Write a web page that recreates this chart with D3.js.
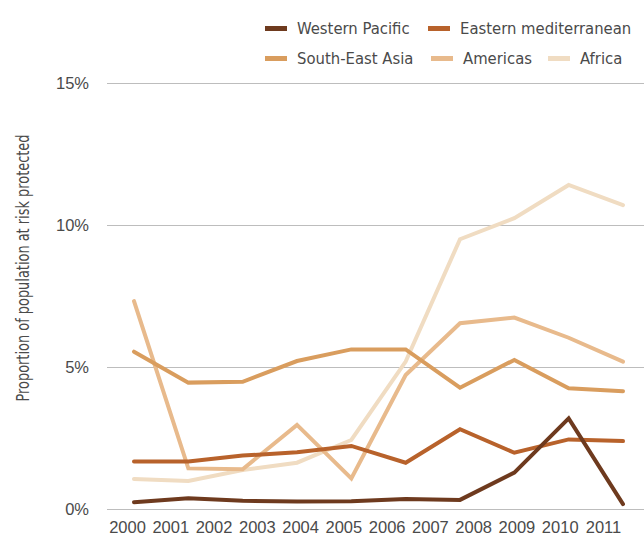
<!DOCTYPE html>
<html>
<head>
<meta charset="utf-8">
<script src="https://cdn.jsdelivr.net/npm/d3@7"></script>
<style>
  html, body { margin: 0; padding: 0; background: #fff; }
  svg { display: block; font-family: "DejaVu Sans Condensed", "DejaVu Sans", sans-serif; font-stretch: condensed; }
</style>
</head>
<body>
<svg id="chart" width="644" height="538"></svg>
<script>
  // ── Data ──────────────────────────────────────────────────────────────
  const yearLabels = [2000, 2001, 2002, 2003, 2004, 2005, 2006, 2007, 2008, 2009, 2010, 2011];
  const seriesNames = ["Western Pacific", "Eastern mediterranean", "South-East Asia", "Americas", "Africa"];
  const seriesColors = ["#6e3a1e", "#b8622b", "#d99d5e", "#e8ba8c", "#f0dcc2"];

  // 10 observations per region (% of population at risk protected)
  const westernPacific = [0.24, 0.38, 0.29, 0.26, 0.27, 0.35, 0.32, 1.28, 3.19, 0.17];
  const easternMed     = [1.67, 1.67, 1.88, 2.00, 2.22, 1.63, 2.81, 1.98, 2.45, 2.39];
  const southEastAsia  = [5.54, 4.45, 4.48, 5.21, 5.62, 5.62, 4.27, 5.25, 4.25, 4.15];
  const americas       = [7.32, 1.43, 1.40, 2.96, 1.08, 4.72, 6.54, 6.74, 6.03, 5.19];
  const africa         = [1.06, 0.99, 1.37, 1.63, 2.43, 5.19, 9.50, 10.24, 11.41, 10.70];

  const yTicks = [0, 5, 10, 15];

  // ── Layout ────────────────────────────────────────────────────────────
  const GRID_LEFT = 107, GRID_RIGHT = 644;
  const Y_TOP = 83, Y_BOTTOM = 509;
  const TEXT_COLOR = "#4a4a4a";
  const TICK_FONT = "16.5px";
  const LEGEND_FONT = "16.5px";

  const svg = d3.select("#chart");

  const y = d3.scaleLinear().domain([0, 15]).range([Y_BOTTOM, Y_TOP]);
  // observation positions along the plot
  const xObs = d3.scaleLinear().domain([0, 9]).range([134, 623]);
  // year labels along the axis
  const xYear = d3.scaleLinear().domain([2000, 2011]).range([127, 603]);

  // ── Y axis + gridlines ────────────────────────────────────────────────
  const yAxisG = svg.append("g")
    .attr("transform", `translate(${GRID_LEFT},0)`)
    .call(d3.axisLeft(y)
      .tickValues(yTicks)
      .tickSize(-(GRID_RIGHT - GRID_LEFT))
      .tickPadding(18)
      .tickFormat(d => d + "%"));
  yAxisG.select(".domain").remove();
  yAxisG.selectAll(".tick line").attr("stroke", "#bdbdbd").attr("stroke-width", 1);
  yAxisG.selectAll(".tick text")
    .attr("fill", TEXT_COLOR)
    .attr("font-size", TICK_FONT)
    .attr("font-family", null);

  // ── X axis labels ─────────────────────────────────────────────────────
  const xAxisG = svg.append("g")
    .attr("transform", `translate(0,${Y_BOTTOM + 8})`)
    .call(d3.axisBottom(xYear)
      .tickValues(yearLabels)
      .tickSize(0)
      .tickPadding(4)
      .tickFormat(d3.format("d")));
  xAxisG.select(".domain").remove();
  xAxisG.selectAll(".tick text")
    .attr("fill", TEXT_COLOR)
    .attr("font-size", TICK_FONT)
    .attr("font-family", null);

  // ── Y label ───────────────────────────────────────────────────────────
  svg.append("text")
    .attr("transform", "translate(29,268) rotate(-90)")
    .attr("text-anchor", "middle")
    .attr("fill", TEXT_COLOR)
    .attr("font-size", "17px")
    .attr("textLength", 267)
    .attr("lengthAdjust", "spacingAndGlyphs")
    .text("Proportion of population at risk protected");

  // ── Lines ─────────────────────────────────────────────────────────────
  const allSeries = [westernPacific, easternMed, southEastAsia, americas, africa];
  const line = d3.line()
    .x((d, i) => xObs(i))
    .y(d => y(d));

  // draw lightest first so the dark lines sit on top
  for (let s = allSeries.length - 1; s >= 0; s--) {
    svg.append("path")
      .datum(allSeries[s])
      .attr("fill", "none")
      .attr("stroke", seriesColors[s])
      .attr("stroke-width", 4)
      .attr("stroke-linecap", "round")
      .attr("stroke-linejoin", "miter")
      .attr("d", line);
  }

  // ── Legend ────────────────────────────────────────────────────────────
  const legendPos = [[265, 28], [428, 28], [265, 58], [431, 58], [548, 58]];
  seriesNames.forEach((name, i) => {
    const [lx, ly] = legendPos[i];
    const g = svg.append("g").attr("transform", `translate(${lx},${ly})`);
    g.append("rect")
      .attr("x", 0).attr("y", -2)
      .attr("width", 22).attr("height", 5)
      .attr("fill", seriesColors[i]);
    g.append("text")
      .attr("x", 32).attr("y", 0)
      .attr("dy", "0.35em")
      .attr("fill", TEXT_COLOR)
      .attr("font-size", LEGEND_FONT)
      .text(name);
  });
</script>
</body>
</html>
